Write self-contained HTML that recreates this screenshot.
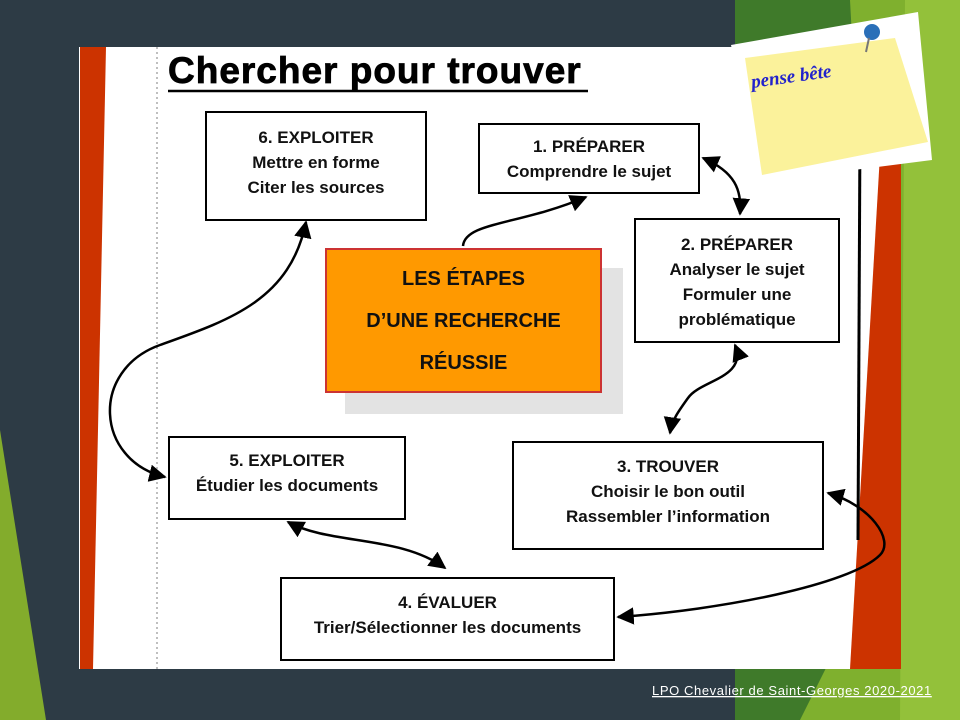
<!DOCTYPE html>
<html><head><meta charset="utf-8"><style>
html,body{margin:0;padding:0}
body{width:960px;height:720px;overflow:hidden;background:#2d3b45;position:relative;font-family:"Liberation Sans",sans-serif}
.b{position:absolute;background:#fff;border:2px solid #000;box-sizing:border-box;text-align:center;font-weight:bold;font-size:17px;line-height:25px;color:#111}
</style></head><body>
<svg width="960" height="720" style="position:absolute;left:0;top:0">
<polygon points="735,0 960,0 960,720 735,720" fill="#3f7a2a"/>
<polygon points="850,0 960,0 960,720 800,720 880,560" fill="#7fb02e"/>
<polygon points="905,0 960,0 960,720 900,720" fill="#93c13a"/>
<polygon points="0,430 0,720 46,720" fill="#83ac2c"/>
<rect x="79" y="47" width="822" height="622" fill="#fff"/>
<polygon points="80,47 106,47 93,669 80,669" fill="#cc3300"/>
<polygon points="882,120 901,120 901,669 850,669" fill="#cc3300"/>
<line x1="157" y1="47" x2="157" y2="669" stroke="#aaa" stroke-dasharray="2,3" stroke-width="1.5"/>
<line x1="860" y1="125" x2="858" y2="540" stroke="#000" stroke-width="3"/>
<rect x="345" y="268" width="278" height="146" fill="#e3e3e3"/>
<defs><marker id="a" viewBox="0 0 10 10" refX="9" refY="5" markerWidth="7" markerHeight="7" orient="auto-start-reverse"><path d="M0,0L10,5L0,10z" fill="#000"/></marker></defs>
<g fill="none" stroke="#000" stroke-width="2.5" marker-end="url(#a)">
<path d="M463,246 C465,222 520,225 586,197"/>
<path d="M703,158 C735,172 742,190 740,214" marker-start="url(#a)"/>
<path d="M735,345 C748,378 700,380 688,398 C678,412 672,420 670,433" marker-start="url(#a)"/>
<path d="M828,493 C870,505 895,540 880,555 C850,585 720,610 618,617" marker-start="url(#a)"/>
<path d="M288,522 C330,545 400,535 445,568" marker-start="url(#a)"/>
<path d="M306,222 C290,300 230,320 160,345 C90,370 95,460 165,477" marker-start="url(#a)"/>
</g>
<text x="168" y="83" font-family="Liberation Sans" font-weight="bold" font-size="37" letter-spacing="1" fill="#000" stroke="#000" stroke-width="0.8">Chercher pour trouver</text>
<line x1="168" y1="91" x2="588" y2="91" stroke="#000" stroke-width="2.5"/>
<polygon points="731,45 918,12 932,160 760,182" fill="#fff"/>
<polygon points="745,58 895,38 928,142 762,175" fill="#fbf29b"/>
<text x="752" y="88" transform="rotate(-8 752 88)" font-family="Liberation Serif" font-style="italic" font-weight="bold" font-size="19" fill="#2222cc">pense bête</text>
<circle cx="872" cy="32" r="8" fill="#2a6fb8"/>
<line x1="869" y1="38" x2="866" y2="52" stroke="#777" stroke-width="2"/>
<text x="652" y="695" font-size="13" letter-spacing="0.6" fill="#fff" text-decoration="underline">LPO Chevalier de Saint-Georges 2020-2021</text>
</svg>
<div class="b" style="left:205px;top:111px;width:222px;height:110px;padding-top:12px">6. EXPLOITER<br>Mettre en forme<br>Citer les sources</div>
<div class="b" style="left:478px;top:123px;width:222px;height:71px;padding-top:9px">1. PRÉPARER<br>Comprendre le sujet</div>
<div class="b" style="left:634px;top:218px;width:206px;height:125px;padding-top:12px">2. PRÉPARER<br>Analyser le sujet<br>Formuler une<br>problématique</div>
<div class="b" style="left:325px;top:248px;width:277px;height:145px;background:#ff9900;border-color:#c33;font-size:20px;line-height:42px;padding-top:8px">LES ÉTAPES<br>D’UNE RECHERCHE<br>RÉUSSIE</div>
<div class="b" style="left:168px;top:436px;width:238px;height:84px;padding-top:10px">5. EXPLOITER<br>Étudier les documents</div>
<div class="b" style="left:512px;top:441px;width:312px;height:109px;padding-top:11px">3. TROUVER<br>Choisir le bon outil<br>Rassembler l’information</div>
<div class="b" style="left:280px;top:577px;width:335px;height:84px;padding-top:11px">4. ÉVALUER<br>Trier/Sélectionner les documents</div>
</body></html>
